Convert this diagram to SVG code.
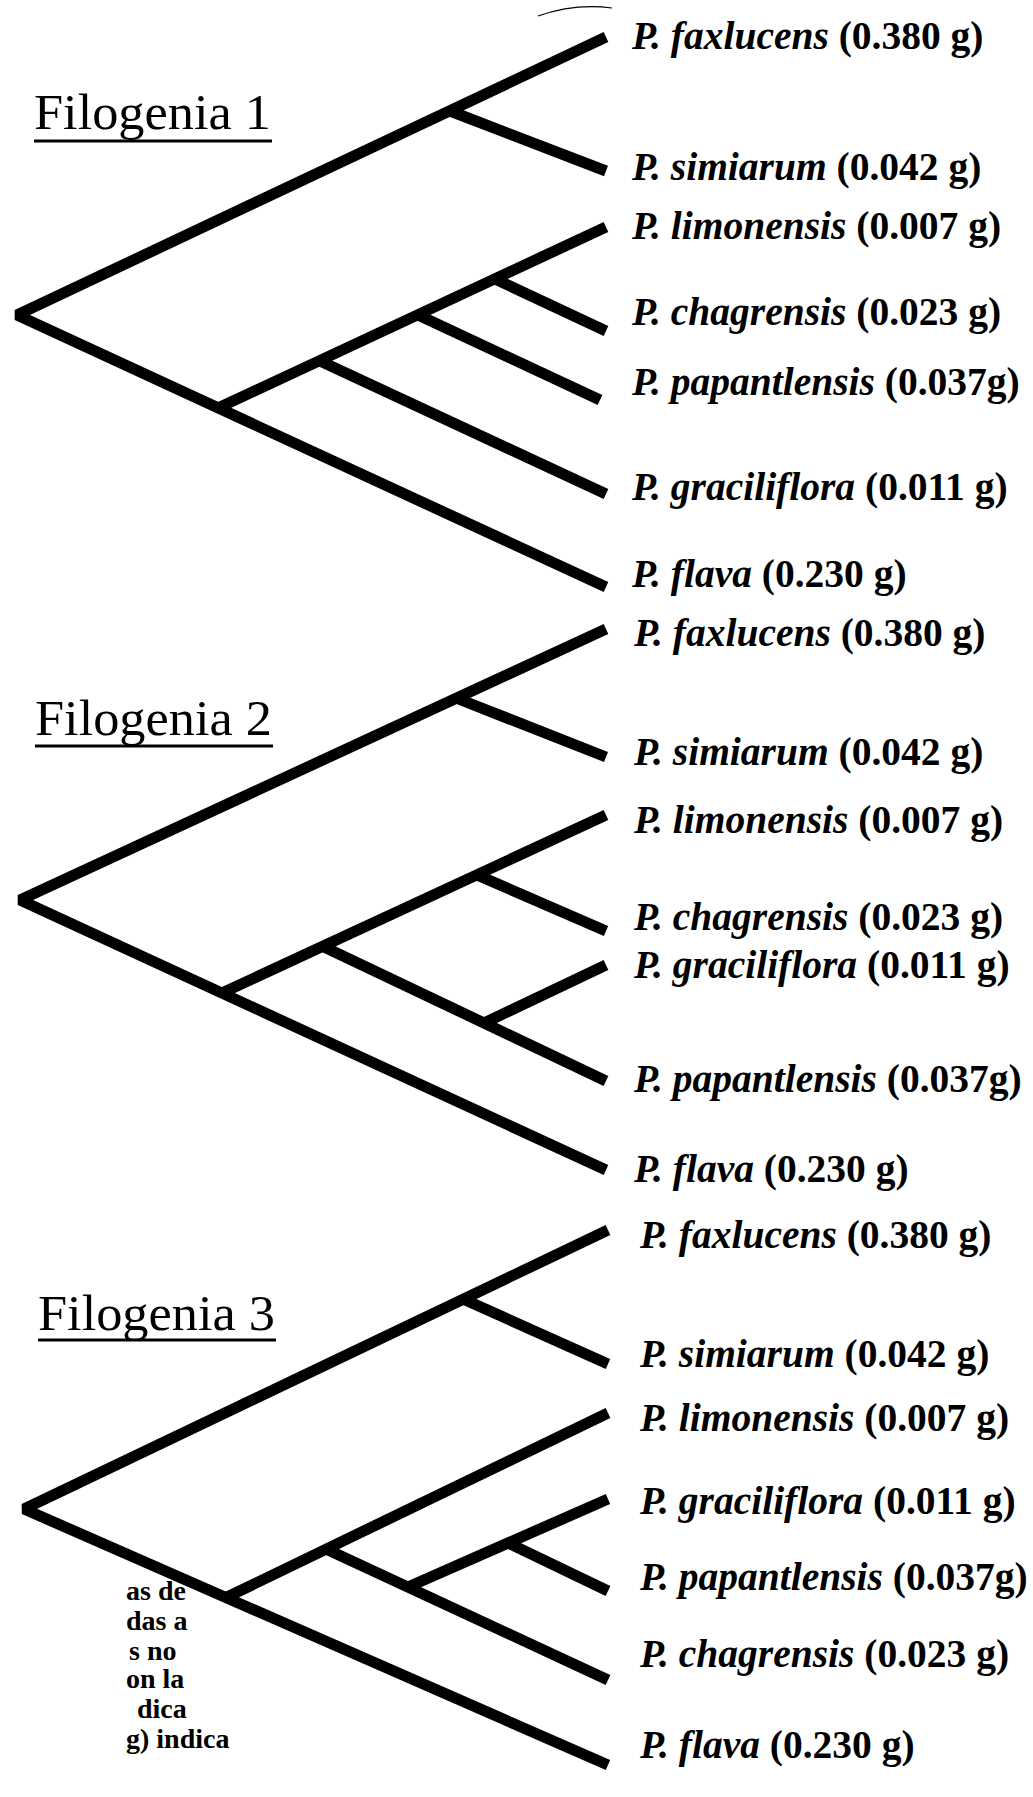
<svg xmlns="http://www.w3.org/2000/svg" width="1033" height="1797" viewBox="0 0 1033 1797">
  <style>
    .br { fill: none; stroke: #000; stroke-width: 11; stroke-linecap: butt; stroke-linejoin: bevel; }
    .lbl { font-family: "Liberation Serif", "Times New Roman", serif; font-size: 39.5px; font-weight: bold; fill: #000; }
    .sp { font-style: italic; }
    .ttl { font-family: "Liberation Serif", "Times New Roman", serif; font-size: 50px; fill: #000; }
    .ul { stroke: #000; stroke-width: 3; }
    .leg { font-family: "Liberation Serif", "Times New Roman", serif; font-size: 28px; font-weight: bold; fill: #000; }
  </style>
  <defs>
    <clipPath id="legclip"><rect x="126" y="1500" width="200" height="297"/></clipPath>
  </defs>
  <rect width="1033" height="1797" fill="#fff"/>

  <!-- branches of the three trees -->
  <g id="connectors">
    <!-- tree 1 -->
    <polyline class="br" points="606,37 17,315 606,587"/>
    <line class="br" x1="450" y1="111" x2="606" y2="171"/>
    <line class="br" x1="218" y1="408" x2="606" y2="227"/>
    <line class="br" x1="495" y1="279" x2="606" y2="331"/>
    <line class="br" x1="418" y1="315" x2="600" y2="400"/>
    <line class="br" x1="320" y1="361" x2="606" y2="494"/>
    <!-- tree 2 -->
    <polyline class="br" points="606,629 20,900 606,1170"/>
    <line class="br" x1="456" y1="698" x2="606" y2="757"/>
    <line class="br" x1="222" y1="993" x2="606" y2="815"/>
    <line class="br" x1="477" y1="875" x2="606" y2="931"/>
    <line class="br" x1="322" y1="946" x2="606" y2="1081"/>
    <line class="br" x1="484" y1="1023" x2="606" y2="965"/>
    <!-- tree 3 -->
    <polyline class="br" points="608,1230 24,1509 608,1765"/>
    <line class="br" x1="463" y1="1299" x2="608" y2="1364"/>
    <line class="br" x1="225" y1="1598" x2="608" y2="1413"/>
    <line class="br" x1="326" y1="1549" x2="608" y2="1680"/>
    <line class="br" x1="408" y1="1587" x2="608" y2="1499"/>
    <line class="br" x1="508" y1="1543" x2="608" y2="1591"/>
    <!-- thin stray arc at the top -->
    <path d="M538,16 Q575,3 612,8" fill="none" stroke="#000" stroke-width="1.2"/>
  </g>

  <!-- titles -->
  <g id="title-1">
    <text class="ttl" x="34" y="129" textLength="237" lengthAdjust="spacingAndGlyphs">Filogenia 1</text>
    <line class="ul" x1="34" y1="141" x2="272" y2="141"/>
  </g>
  <g id="title-2">
    <text class="ttl" x="35" y="735" textLength="237" lengthAdjust="spacingAndGlyphs">Filogenia 2</text>
    <line class="ul" x1="35" y1="746" x2="273" y2="746"/>
  </g>
  <g id="title-3">
    <text class="ttl" x="38" y="1330" textLength="237" lengthAdjust="spacingAndGlyphs">Filogenia 3</text>
    <line class="ul" x1="38" y1="1340" x2="276" y2="1340"/>
  </g>

  <!-- tree 1 taxa -->
  <g id="t1-faxlucens"><text class="lbl" x="632" y="49"><tspan class="sp">P. faxlucens</tspan> (0.380 g)</text></g>
  <g id="t1-simiarum"><text class="lbl" x="632" y="180"><tspan class="sp">P. simiarum</tspan> (0.042 g)</text></g>
  <g id="t1-limonensis"><text class="lbl" x="632" y="239"><tspan class="sp">P. limonensis</tspan> (0.007 g)</text></g>
  <g id="t1-chagrensis"><text class="lbl" x="632" y="325"><tspan class="sp">P. chagrensis</tspan> (0.023 g)</text></g>
  <g id="t1-papantlensis"><text class="lbl" x="632" y="395"><tspan class="sp">P. papantlensis</tspan> (0.037g)</text></g>
  <g id="t1-graciliflora"><text class="lbl" x="632" y="500"><tspan class="sp">P. graciliflora</tspan> (0.011 g)</text></g>
  <g id="t1-flava"><text class="lbl" x="632" y="587"><tspan class="sp">P. flava</tspan> (0.230 g)</text></g>

  <!-- tree 2 taxa -->
  <g id="t2-faxlucens"><text class="lbl" x="634" y="646"><tspan class="sp">P. faxlucens</tspan> (0.380 g)</text></g>
  <g id="t2-simiarum"><text class="lbl" x="634" y="765"><tspan class="sp">P. simiarum</tspan> (0.042 g)</text></g>
  <g id="t2-limonensis"><text class="lbl" x="634" y="833"><tspan class="sp">P. limonensis</tspan> (0.007 g)</text></g>
  <g id="t2-chagrensis"><text class="lbl" x="634" y="930"><tspan class="sp">P. chagrensis</tspan> (0.023 g)</text></g>
  <g id="t2-graciliflora"><text class="lbl" x="634" y="978"><tspan class="sp">P. graciliflora</tspan> (0.011 g)</text></g>
  <g id="t2-papantlensis"><text class="lbl" x="634" y="1092"><tspan class="sp">P. papantlensis</tspan> (0.037g)</text></g>
  <g id="t2-flava"><text class="lbl" x="634" y="1182"><tspan class="sp">P. flava</tspan> (0.230 g)</text></g>

  <!-- tree 3 taxa -->
  <g id="t3-faxlucens"><text class="lbl" x="640" y="1248"><tspan class="sp">P. faxlucens</tspan> (0.380 g)</text></g>
  <g id="t3-simiarum"><text class="lbl" x="640" y="1367"><tspan class="sp">P. simiarum</tspan> (0.042 g)</text></g>
  <g id="t3-limonensis"><text class="lbl" x="640" y="1431"><tspan class="sp">P. limonensis</tspan> (0.007 g)</text></g>
  <g id="t3-graciliflora"><text class="lbl" x="640" y="1514"><tspan class="sp">P. graciliflora</tspan> (0.011 g)</text></g>
  <g id="t3-papantlensis"><text class="lbl" x="640" y="1590"><tspan class="sp">P. papantlensis</tspan> (0.037g)</text></g>
  <g id="t3-chagrensis"><text class="lbl" x="640" y="1667"><tspan class="sp">P. chagrensis</tspan> (0.023 g)</text></g>
  <g id="t3-flava"><text class="lbl" x="640" y="1758"><tspan class="sp">P. flava</tspan> (0.230 g)</text></g>

  <!-- caption fragment, cut at its left edge -->
  <g id="caption" clip-path="url(#legclip)">
    <text class="leg" x="126" y="1600">as de</text>
    <text class="leg" x="126" y="1630">das a</text>
    <text class="leg" x="129" y="1660">s no</text>
    <text class="leg" x="126" y="1688">on la</text>
    <text class="leg" x="137" y="1718">dica</text>
    <text class="leg" x="126" y="1748">g) indica</text>
  </g>
</svg>
